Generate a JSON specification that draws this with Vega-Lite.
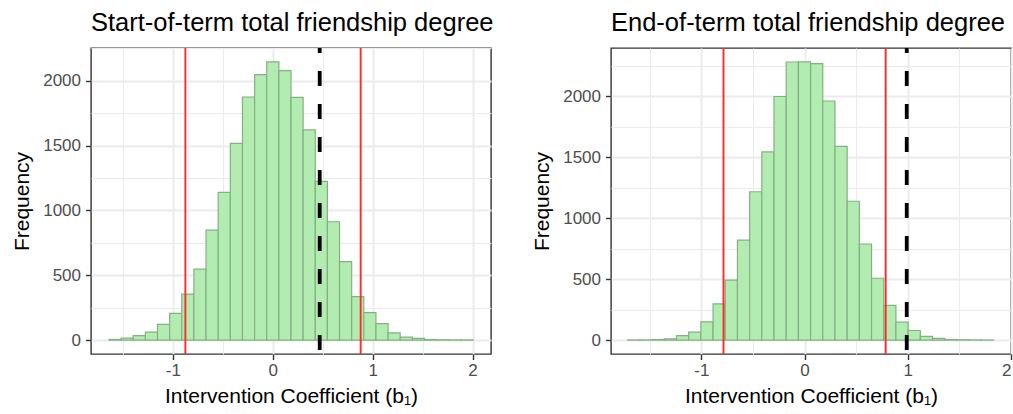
{
  "$schema": "https://vega.github.io/schema/vega-lite/v6.json",
  "background": "white",
  "padding": {"left": 10, "top": 9, "right": 0, "bottom": 0},
  "spacing": 35,
  "config": {
    "font": "Liberation Sans",
    "view": {"stroke": "#333333", "strokeWidth": 1.4},
    "axis": {
      "domain": false,
      "labelFont": "Liberation Sans",
      "labelFontSize": 17,
      "labelColor": "#4d4d4d",
      "titleFont": "Liberation Sans",
      "titleFontSize": 21,
      "titleFontWeight": "normal",
      "titleColor": "#000000",
      "tickColor": "#333333",
      "tickSize": 5.5,
      "tickWidth": 1.4,
      "gridColor": "#ebebeb",
      "labelPadding": 5,
      "titlePadding": 10
    },
    "axisX": {"labelPadding": 3, "titlePadding": 7},
    "title": {"font": "Liberation Sans", "fontSize": 25.5, "fontWeight": "normal", "color": "#000000", "anchor": "start", "frame": "group", "offset": 10}
  },
  "datasets": {
    "start": [
      {"bin_start": -1.640, "bin_end": -1.5185, "count": 5},
      {"bin_start": -1.5185, "bin_end": -1.397, "count": 15},
      {"bin_start": -1.397, "bin_end": -1.2755, "count": 34},
      {"bin_start": -1.2755, "bin_end": -1.154, "count": 62},
      {"bin_start": -1.154, "bin_end": -1.0325, "count": 122},
      {"bin_start": -1.0325, "bin_end": -0.911, "count": 207},
      {"bin_start": -0.911, "bin_end": -0.7895, "count": 355},
      {"bin_start": -0.7895, "bin_end": -0.668, "count": 547},
      {"bin_start": -0.668, "bin_end": -0.5465, "count": 848},
      {"bin_start": -0.5465, "bin_end": -0.425, "count": 1140},
      {"bin_start": -0.425, "bin_end": -0.3035, "count": 1517},
      {"bin_start": -0.3035, "bin_end": -0.182, "count": 1875},
      {"bin_start": -0.182, "bin_end": -0.0605, "count": 2048},
      {"bin_start": -0.0605, "bin_end": 0.061, "count": 2146},
      {"bin_start": 0.061, "bin_end": 0.1825, "count": 2079},
      {"bin_start": 0.1825, "bin_end": 0.304, "count": 1872},
      {"bin_start": 0.304, "bin_end": 0.4255, "count": 1621},
      {"bin_start": 0.4255, "bin_end": 0.547, "count": 1225},
      {"bin_start": 0.547, "bin_end": 0.6685, "count": 913},
      {"bin_start": 0.6685, "bin_end": 0.79, "count": 606},
      {"bin_start": 0.79, "bin_end": 0.9115, "count": 335},
      {"bin_start": 0.9115, "bin_end": 1.033, "count": 212},
      {"bin_start": 1.033, "bin_end": 1.1545, "count": 128},
      {"bin_start": 1.1545, "bin_end": 1.276, "count": 56},
      {"bin_start": 1.276, "bin_end": 1.3975, "count": 23},
      {"bin_start": 1.3975, "bin_end": 1.519, "count": 13},
      {"bin_start": 1.519, "bin_end": 1.6405, "count": 5},
      {"bin_start": 1.6405, "bin_end": 1.762, "count": 3},
      {"bin_start": 1.762, "bin_end": 1.8835, "count": 2},
      {"bin_start": 1.8835, "bin_end": 2.005, "count": 2}
    ],
    "end": [
      {"bin_start": -1.713, "bin_end": -1.5949, "count": 2},
      {"bin_start": -1.5949, "bin_end": -1.4768, "count": 2},
      {"bin_start": -1.4768, "bin_end": -1.3587, "count": 5},
      {"bin_start": -1.3587, "bin_end": -1.2406, "count": 11},
      {"bin_start": -1.2406, "bin_end": -1.1225, "count": 37},
      {"bin_start": -1.1225, "bin_end": -1.0044, "count": 65},
      {"bin_start": -1.0044, "bin_end": -0.8863, "count": 150},
      {"bin_start": -0.8863, "bin_end": -0.7682, "count": 298},
      {"bin_start": -0.7682, "bin_end": -0.6501, "count": 493},
      {"bin_start": -0.6501, "bin_end": -0.532, "count": 820},
      {"bin_start": -0.532, "bin_end": -0.4139, "count": 1218},
      {"bin_start": -0.4139, "bin_end": -0.2958, "count": 1545},
      {"bin_start": -0.2958, "bin_end": -0.1777, "count": 2000},
      {"bin_start": -0.1777, "bin_end": -0.0596, "count": 2283},
      {"bin_start": -0.0596, "bin_end": 0.0585, "count": 2284},
      {"bin_start": 0.0585, "bin_end": 0.1766, "count": 2270},
      {"bin_start": 0.1766, "bin_end": 0.2947, "count": 1963},
      {"bin_start": 0.2947, "bin_end": 0.4128, "count": 1590},
      {"bin_start": 0.4128, "bin_end": 0.5309, "count": 1140},
      {"bin_start": 0.5309, "bin_end": 0.649, "count": 789},
      {"bin_start": 0.649, "bin_end": 0.7671, "count": 508},
      {"bin_start": 0.7671, "bin_end": 0.8852, "count": 285},
      {"bin_start": 0.8852, "bin_end": 1.0033, "count": 147},
      {"bin_start": 1.0033, "bin_end": 1.1214, "count": 79},
      {"bin_start": 1.1214, "bin_end": 1.2395, "count": 31},
      {"bin_start": 1.2395, "bin_end": 1.3576, "count": 14},
      {"bin_start": 1.3576, "bin_end": 1.4757, "count": 5},
      {"bin_start": 1.4757, "bin_end": 1.5938, "count": 3},
      {"bin_start": 1.5938, "bin_end": 1.7119, "count": 2},
      {"bin_start": 1.7119, "bin_end": 1.83, "count": 1}
    ],
    "start_ci": [{"x": -0.875}, {"x": 0.88}],
    "start_obs": [{"x": 0.47}],
    "end_ci": [{"x": -0.785}, {"x": 0.786}],
    "end_obs": [{"x": 0.99}]
  },
  "hconcat": [
    {
      "width": 400,
      "height": 306,
      "title": {"text": "Start-of-term total friendship degree"},
      "layer": [
        {
          "data": {"name": "start"},
          "mark": {"type": "bar", "fill": "#b3ecb1", "stroke": "#84b182", "strokeWidth": 1.2},
          "encoding": {
            "x": {
              "field": "bin_start", "type": "quantitative",
              "title": "Intervention Coefficient (b₁)",
              "scale": {"domain": [-1.82, 2.185], "nice": false, "zero": false},
              "axis": {
                "values": [-1.5, -1, -0.5, 0, 0.5, 1, 1.5, 2],
                "labelExpr": "datum.value % 1 === 0 ? '' + datum.value : ''",
                "gridWidth": {"condition": {"test": "datum.value % 1 === 0", "value": 1.9}, "value": 1},
                "tickOpacity": {"condition": {"test": "datum.value % 1 === 0", "value": 1}, "value": 0}
              }
            },
            "x2": {"field": "bin_end"},
            "y": {
              "field": "count", "type": "quantitative",
              "title": "Frequency",
              "scale": {"domain": [-107, 2253], "nice": false, "zero": false},
              "axis": {
                "values": [0, 250, 500, 750, 1000, 1250, 1500, 1750, 2000, 2250],
                "labelExpr": "datum.value % 500 === 0 ? '' + datum.value : ''",
                "gridWidth": {"condition": {"test": "datum.value % 500 === 0", "value": 1.9}, "value": 1},
                "tickOpacity": {"condition": {"test": "datum.value % 500 === 0", "value": 1}, "value": 0}
              }
            },
            "y2": {"datum": 0}
          }
        },
        {
          "data": {"name": "start_ci"},
          "mark": {"type": "rule", "color": "#ff2a2a", "strokeWidth": 1.9},
          "encoding": {"x": {"field": "x", "type": "quantitative", "title": "Intervention Coefficient (b₁)"}}
        },
        {
          "data": {"name": "start_obs"},
          "mark": {"type": "rule", "color": "#000000", "strokeWidth": 3.8, "strokeDash": [15, 18], "strokeDashOffset": 10},
          "encoding": {"x": {"field": "x", "type": "quantitative", "title": "Intervention Coefficient (b₁)"}}
        }
      ]
    },
    {
      "width": 400,
      "height": 306,
      "title": {"text": "End-of-term total friendship degree"},
      "layer": [
        {
          "data": {"name": "end"},
          "mark": {"type": "bar", "fill": "#b3ecb1", "stroke": "#84b182", "strokeWidth": 1.2},
          "encoding": {
            "x": {
              "field": "bin_start", "type": "quantitative",
              "title": "Intervention Coefficient (b₁)",
              "scale": {"domain": [-1.875, 2.0], "nice": false, "zero": false},
              "axis": {
                "values": [-1.5, -1, -0.5, 0, 0.5, 1, 1.5, 2],
                "labelExpr": "datum.value % 1 === 0 ? '' + datum.value : ''",
                "gridWidth": {"condition": {"test": "datum.value % 1 === 0", "value": 1.9}, "value": 1},
                "tickOpacity": {"condition": {"test": "datum.value % 1 === 0", "value": 1}, "value": 0}
              }
            },
            "x2": {"field": "bin_end"},
            "y": {
              "field": "count", "type": "quantitative",
              "title": "Frequency",
              "scale": {"domain": [-114, 2398], "nice": false, "zero": false},
              "axis": {
                "values": [0, 250, 500, 750, 1000, 1250, 1500, 1750, 2000, 2250],
                "labelExpr": "datum.value % 500 === 0 ? '' + datum.value : ''",
                "gridWidth": {"condition": {"test": "datum.value % 500 === 0", "value": 1.9}, "value": 1},
                "tickOpacity": {"condition": {"test": "datum.value % 500 === 0", "value": 1}, "value": 0}
              }
            },
            "y2": {"datum": 0}
          }
        },
        {
          "data": {"name": "end_ci"},
          "mark": {"type": "rule", "color": "#ff2a2a", "strokeWidth": 1.9},
          "encoding": {"x": {"field": "x", "type": "quantitative", "title": "Intervention Coefficient (b₁)"}}
        },
        {
          "data": {"name": "end_obs"},
          "mark": {"type": "rule", "color": "#000000", "strokeWidth": 3.8, "strokeDash": [15, 18], "strokeDashOffset": 10},
          "encoding": {"x": {"field": "x", "type": "quantitative", "title": "Intervention Coefficient (b₁)"}}
        }
      ]
    }
  ]
}
